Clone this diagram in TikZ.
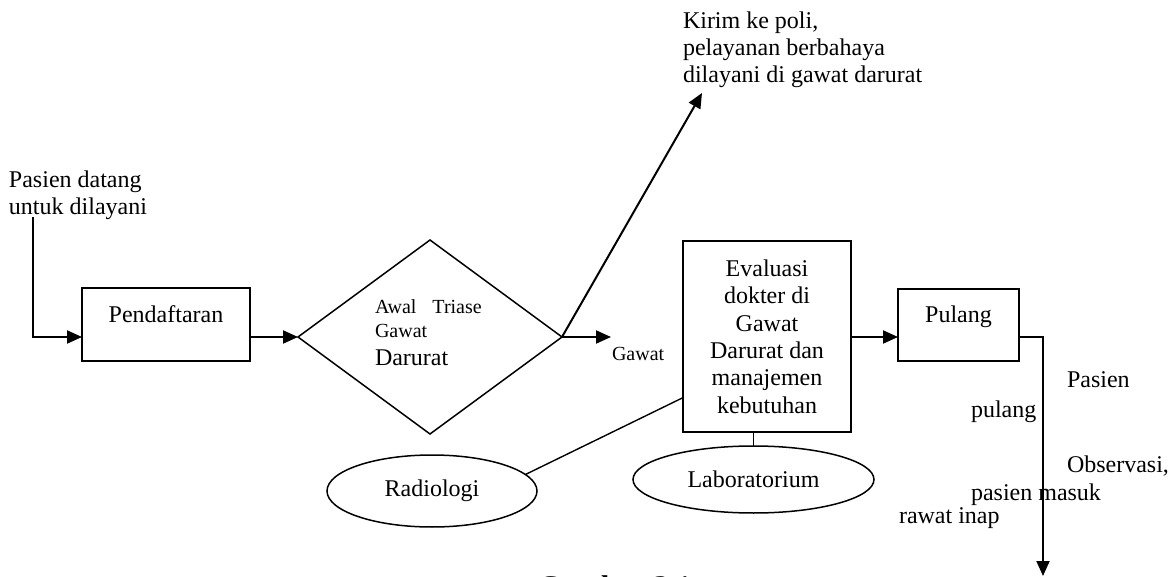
\documentclass[tikz,border=0pt]{standalone}
\usepackage{fontspec}
\setmainfont{Liberation Serif}
\usetikzlibrary{arrows.meta,shapes.geometric,calc}
\begin{document}
\begin{tikzpicture}[x=1pt,y=-1pt,
  every node/.style={inner sep=0pt, outer sep=0pt},
  big/.style={font=\fontsize{24}{27}\selectfont},
  small/.style={font=\fontsize{20}{24}\selectfont},
  stepbox/.style={draw, line width=1.8pt, rectangle, big},
  oval/.style={draw, line width=1.5pt, ellipse, big},
  flow/.style={line width=2pt, -{Triangle[length=15pt,width=13pt]}},
  link/.style={line width=1.4pt},
]
\useasboundingbox (0,0) rectangle (1173,577);
\clip (0,0) rectangle (1173,577);

% nodes
\node[big, anchor=north west, align=left] (start) at (9,170.5) {Pasien datang\\untuk dilayani};
\node[stepbox, minimum width=168pt, minimum height=73pt, text height=16pt, text depth=20pt] (pend) at (166,324.5) {Pendaftaran};
\node[draw, diamond, line width=1.5pt, minimum width=264pt, minimum height=194pt] (dia) at (430,337) {};
\node[small, anchor=north west, align=left] (diatxt) at (375,299.3) {Awal\hspace{16pt}Triase\\Gawat\\[4pt]{\fontsize{24}{28}\selectfont Darurat}};
\node[small, anchor=base west] (gawat) at (612,360) {Gawat};
\node[stepbox, minimum width=168pt, minimum height=191pt, align=center, font=\fontsize{24}{27.4}\selectfont] (eval) at (767,336.5) {Evaluasi\\dokter di\\Gawat\\Darurat dan\\manajemen\\kebutuhan};
\node[stepbox, minimum width=121pt, minimum height=72pt, text height=16pt, text depth=20pt] (pulang) at (958.5,325) {Pulang};
\node[oval, minimum width=210pt, minimum height=72pt] (radio) at (432,491) {Radiologi};
\node[oval, minimum width=241pt, minimum height=67pt] (lab) at (753.5,479.5) {Laboratorium};
\node[big, anchor=north west, align=left] (kirim) at (683,11.6) {Kirim ke poli,\\pelayanan berbahaya\\dilayani di gawat darurat};
\node[big, anchor=base west] (t1) at (1067,387) {Pasien};
\node[big, anchor=base west] (t2) at (971,417) {pulang};
\node[big, anchor=base west] (t3) at (1067,472) {Observasi,};
\node[big, anchor=base west] (t4) at (971,500) {pasien masuk};
\node[big, anchor=base west] (t5) at (899,523) {rawat inap};
\node[font=\fontsize{30}{36}\selectfont\bfseries, anchor=base west] (cap) at (538,596) {Gambar 2.1};

% connectors
\coordinate (s0) at (33,217);
\draw[flow] (s0) |- (pend.west |- dia.west);
\draw[flow] (pend.east |- dia.west) -- (dia.west);
\coordinate (k) at (702,93);
\draw[flow] (dia.east) -- (k);
\coordinate (g) at (611,337);
\draw[flow] (dia.east) -- (g);
\draw[flow] (eval.east |- dia.east) -- (pulang.west |- dia.east);
\coordinate (pe) at (1043,337);
\coordinate (pz) at (1043,576);
\draw[flow] (pulang.east |- dia.east) -- (pe) -- (pz);
\draw[link] ($(eval.south west)!0.18!(eval.north west)$) -- (radio.10);
\draw[link] (lab.north |- eval.south) -- (lab.north);
\end{tikzpicture}
\end{document}
